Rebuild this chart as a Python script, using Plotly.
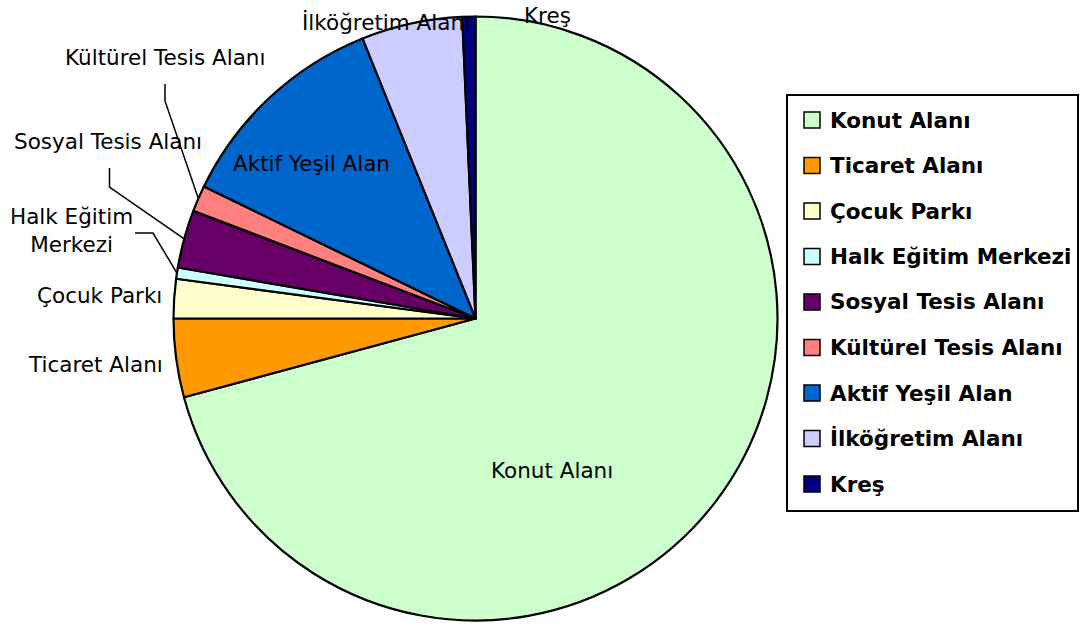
import math
import plotly.graph_objects as go

# ---------------- data ----------------
categories = ["Konut Alanı", "Ticaret Alanı", "Çocuk Parkı", "Halk Eğitim Merkezi",
              "Sosyal Tesis Alanı", "Kültürel Tesis Alanı", "Aktif Yeşil Alan",
              "İlköğretim Alanı", "Kreş"]
values = [70.8, 4.2, 2.1, 0.6, 3.1, 1.4, 11.7, 5.4, 0.7]
colors = ["#CCFFCC", "#FF9900", "#FFFFCC", "#CCFFFF", "#660066",
          "#FF8080", "#0066CC", "#CCCCFF", "#000080"]
slice_labels = ["Konut Alanı", "Ticaret Alanı", "Çocuk Parkı", "Halk Eğitim<br>Merkezi",
                "Sosyal Tesis Alanı", "Kültürel Tesis Alanı", "Aktif Yeşil Alan",
                "İlköğretim Alanı", "Kreş"]

# ---------------- layout (page pixels) ----------------
W, H = 1080, 626
OFF = 0  # page body margin removed via post_script
CX, CY, R = 475.5, 318.5, 302
FONT = "DejaVu Sans"
label_pos = [(552, 471), (95, 364), (99, 295), (71, 231), (108, 141),
             (165, 58), (311, 163), (386, 22), (547, 15.5)]
# leader line elbows (pixel) for slices with leader lines
leaders = {5: [(165, 84), (165, 101)],
           4: [(109.5, 168), (109.5, 187)],
           3: [(135, 233), (153, 233)]}
legend_box = (787, 95, 1078, 511)
legend_y0, legend_dy = 120, 45.5


def px(x):
    return (x - OFF) / W


def py(y):
    return 1 - (y - OFF) / H


fig = go.Figure()
fig.add_trace(go.Pie(
    labels=categories, values=values, sort=False, direction="clockwise", rotation=0,
    marker=dict(colors=colors, line=dict(color="black", width=2.2)),
    textinfo="none", hoverinfo="skip", showlegend=False,
    domain=dict(x=[px(CX - R), px(CX + R)], y=[py(CY + R), py(CY - R)]),
))

annotations = []
shapes = []

# slice labels
for i, lab in enumerate(slice_labels):
    x, y = label_pos[i]
    annotations.append(dict(x=px(x), y=py(y), xref="paper", yref="paper", text=lab,
                            showarrow=False, xanchor="center", yanchor="middle",
                            font=dict(family=FONT, size=21.5, color="black")))

# leader lines to slice edge at mid angle (computed from data)
total = sum(values)
cum = 0
mids = []
for v in values:
    mids.append((cum + v / 2) / total * 360)
    cum += v
for i, pts in leaders.items():
    a = math.radians(mids[i])
    ex, ey = CX + R * math.sin(a), CY - R * math.cos(a)
    allpts = pts + [(ex, ey)]
    path = "M " + " L ".join(f"{px(x):.5f},{py(y):.5f}" for x, y in allpts)
    shapes.append(dict(type="path", path=path, xref="paper", yref="paper",
                       line=dict(color="black", width=1.5)))

# legend
x0, y0, x1, y1 = legend_box
shapes.append(dict(type="rect", xref="paper", yref="paper", x0=px(x0), x1=px(x1),
                   y0=py(y1), y1=py(y0), line=dict(color="black", width=2),
                   fillcolor="white", layer="below"))
for i, (cat, col) in enumerate(zip(categories, colors)):
    yc = legend_y0 + legend_dy * i
    shapes.append(dict(type="rect", xref="paper", yref="paper", x0=px(804), x1=px(820),
                       y0=py(yc + 8), y1=py(yc - 8), fillcolor=col,
                       line=dict(color="black", width=1.5)))
    annotations.append(dict(x=px(828), y=py(yc), xref="paper", yref="paper", text=cat,
                            showarrow=False, xanchor="left", yanchor="middle",
                            font=dict(family=FONT, size=21.5, color="black", weight="bold")))

fig.update_layout(width=W, height=H, autosize=False,
                  margin=dict(l=0, r=0, t=0, b=0, pad=0),
                  paper_bgcolor="white", plot_bgcolor="white",
                  showlegend=False, annotations=annotations, shapes=shapes)

fig.write_html("out.html", config={"displayModeBar": False},
               post_script="document.body.style.margin='0';document.body.style.overflow='hidden';")
